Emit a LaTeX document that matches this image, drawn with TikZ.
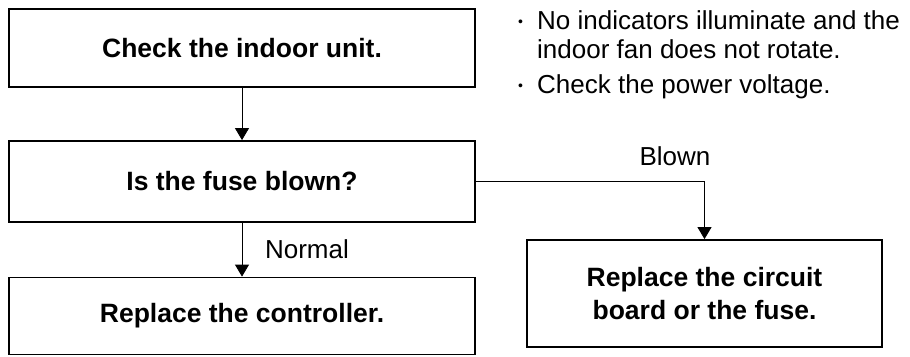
\documentclass[tikz,border=0pt]{standalone}
\usepackage{fontspec}
\setmainfont{Liberation Sans}
\usetikzlibrary{arrows.meta}

\newcommand{\dotmark}{\makebox[20pt][l]{\hspace{1pt}{\fontsize{14}{14}\selectfont\raisebox{3pt}{\textbullet}}}}

\tikzset{
    box/.style={draw, line width=1.8pt, minimum width=466pt, font=\fontsize{26.5}{33}\selectfont\bfseries, align=center},
    note/.style={font=\fontsize{26}{29}\selectfont, inner sep=0pt},
    flow/.style={-{Triangle[width=14pt,length=12pt]}, line width=0.8pt},
}

\begin{document}
\begin{tikzpicture}[x=1pt, y=-1pt]
    \useasboundingbox (0,0) rectangle (910,356);

    \node[box, minimum height=78pt] (check) at (242,48) {Check the indoor unit.};
    \node[box, minimum height=81pt] (fuse) at (242,181.5) {Is the fuse blown?};
    \node[box, minimum height=77pt] (ctrl) at (242,316) {Replace the controller.};
    \node[box, minimum width=355pt, minimum height=107pt] (board) at (704.5,293.5)
        {Replace the circuit\\board or the fuse.};

    % notes beside the first step
    \node[note, anchor=base west] (n1) at (517,29) {\dotmark No indicators illuminate and the};
    \node[note, anchor=base west] (n1b) at (537,58) {indoor fan does not rotate.};
    \node[note, anchor=base west] (n2) at (517,93) {\dotmark Check the power voltage.};

    \draw[flow] (check) to (fuse);
    \draw[flow] (fuse) to (ctrl);
    \draw[flow] (fuse.east) -| (board.north);

    \node[note, anchor=base] (normal) at (307,258) {Normal};
    \node[note, anchor=base] (blown) at (675,165) {Blown};
\end{tikzpicture}
\end{document}
